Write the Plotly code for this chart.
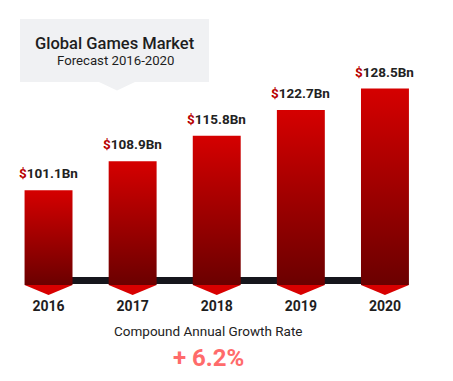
import plotly.graph_objects as go

# ---- data ----
years = ["2016", "2017", "2018", "2019", "2020"]
values = [101.1, 108.9, 115.8, 122.7, 128.5]
value_labels = ["101.1Bn", "108.9Bn", "115.8Bn", "122.7Bn", "128.5Bn"]
title_main = "Global Games Market"
title_sub = "Forecast 2016-2020"
cagr_label = "Compound Annual Growth Rate"
cagr_value = "+ 6.2%"

# ---- styling / scale ----
W, H = 453, 381
BASE = 75.64          # axis value where bars start
Y_RANGE = [72.68, 152.31]
X_RANGE = [-0.577, 4.809]
HALF_W = 0.285
CHEVRON = 2.69        # depth of arrow tip in axis units
PLOT_H = 296          # plot area height in px (margin t=0)

TOP_RED = "#d50000"
DARK_RED = "#6b0000"
FONT = "Roboto"

fig = go.Figure()

for i, (yr, v) in enumerate(zip(years, values)):
    # bar body with vertical gradient
    fig.add_trace(go.Scatter(
        x=[i - HALF_W, i + HALF_W, i + HALF_W, i - HALF_W, i - HALF_W],
        y=[BASE, BASE, v, v, BASE],
        mode="lines", line=dict(width=0), fill="toself",
        fillgradient=dict(type="vertical",
                          colorscale=[[0, DARK_RED], [1, TOP_RED]]),
        hoverinfo="skip", showlegend=False))
    # arrow tip below bar
    fig.add_trace(go.Scatter(
        x=[i - HALF_W, i + HALF_W, i, i - HALF_W],
        y=[BASE, BASE, BASE - CHEVRON, BASE],
        mode="lines", line=dict(width=0), fill="toself",
        fillcolor="#d80000", hoverinfo="skip", showlegend=False))
    fig.add_annotation(
        x=i, y=v, xanchor="center", yanchor="bottom", yshift=7, showarrow=False,
        text=f"<span style='color:#b80000'>$</span>{value_labels[i]}",
        font=dict(family=FONT, size=13.5, color="#222222", weight="bold"))

# dark baseline behind bars
fig.add_shape(type="rect", xref="x", yref="y", x0=0, x1=len(years) - 1,
              y0=BASE + 1 / 3.717, y1=BASE + 8 / 3.717,
              fillcolor="#16161c", line=dict(width=0), layer="below")

def px_x(p):
    return p / W

def px_y(p):
    return 1 - p / PLOT_H

# title box with pointer
fig.add_shape(type="rect", xref="paper", yref="paper",
              x0=px_x(20), x1=px_x(209), y0=px_y(82), y1=px_y(19),
              fillcolor="#f0f1f3", line=dict(width=0), layer="below")
fig.add_shape(type="path", xref="paper", yref="paper",
              path=(f"M {px_x(99)} {px_y(82)} L {px_x(135)} {px_y(82)} "
                    f"L {px_x(117)} {px_y(90.5)} Z"),
              fillcolor="#f0f1f3", line=dict(width=0), layer="below")

def label(x, y, text, **font):
    fig.add_annotation(xref="paper", yref="paper", x=px_x(x), y=px_y(y),
                       xanchor="center", yanchor="middle",
                       text=text, showarrow=False,
                       font=dict(family=FONT, **font))

label(115, 43, title_main, size=16.5, color="#1e1e1e", weight=500)
label(115, 60, title_sub, size=13.2, color="#1e1e1e")
label(208, 331, cagr_label, size=13.5, color="#222222")
label(208, 358, cagr_value, size=24, color="#ff6b6b", weight="bold")

fig.update_layout(
    width=W, height=H,
    margin=dict(l=0, r=0, t=0, b=H - PLOT_H),
    paper_bgcolor="white", plot_bgcolor="white",
    xaxis=dict(range=X_RANGE, tickvals=list(range(len(years))), ticktext=years,
               showgrid=False, zeroline=False, showline=False, ticks="",
               tickfont=dict(family=FONT, size=14, color="#1e1e1e", weight="bold"),
               fixedrange=True),
    yaxis=dict(range=Y_RANGE, visible=False, fixedrange=True),
)

fig.write_html("out.html", config={"displayModeBar": False},
               post_script="document.body.style.margin='0';")
